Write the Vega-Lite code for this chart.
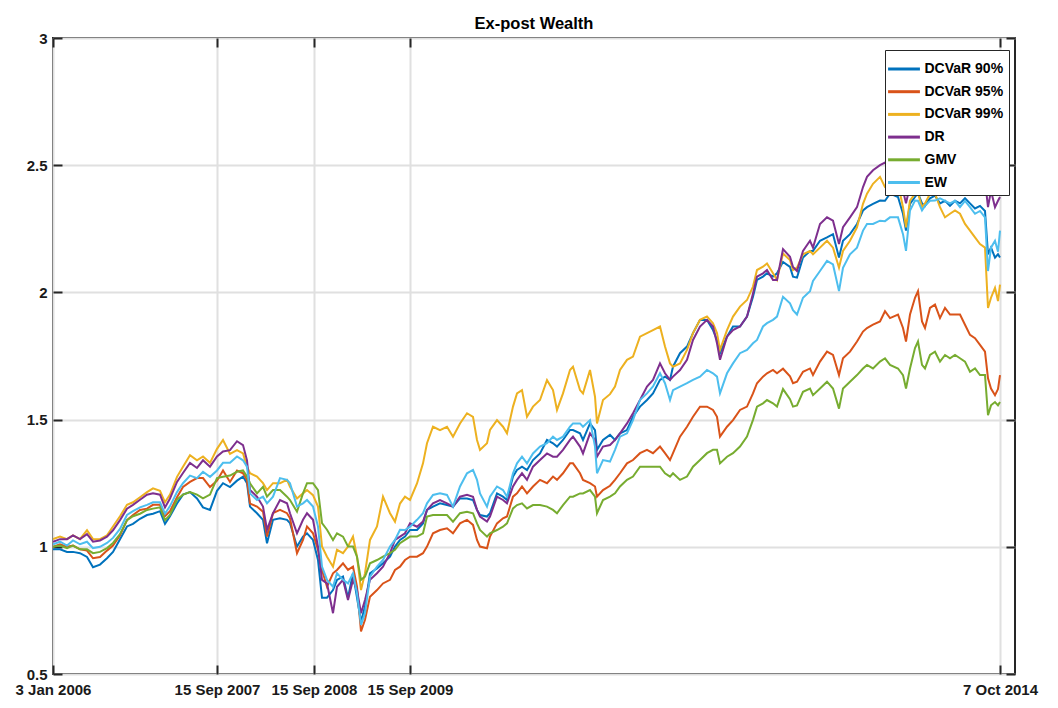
{
"$schema": "https://vega.github.io/schema/vega-lite/v6.json",
"width": 962, "height": 636,
"autosize": {"type": "none"},
"padding": {"left": 53, "top": 38, "right": 43, "bottom": 34},
"background": "white",
"title": {"text": "Ex-post Wealth", "font": "Liberation Sans", "fontSize": 16.5, "fontWeight": "bold", "color": "#000000", "offset": -1, "anchor": "middle"},
"config": {
  "view": {"stroke": "#262626", "strokeWidth": 2},
  "axis": {"domain": false, "gridColor": "#e0e0e0", "gridWidth": 2, "tickColor": "#262626", "tickWidth": 2, "tickSize": -9, "labelFont": "Liberation Sans", "labelFontWeight": "bold", "labelFontSize": 15, "labelColor": "#1a1a1a", "title": null}
},
"data": {"values": [
{"t":0,"B":0.99,"O":1.0,"Y":1.03,"P":1.02,"G":1.0,"L":1.01},
{"t":7,"B":0.99,"O":1.01,"Y":1.04,"P":1.03,"G":1.005,"L":1.02},
{"t":14,"B":0.98,"O":1.0,"Y":1.03,"P":1.03,"G":0.995,"L":1.005},
{"t":20,"B":0.98,"O":1.005,"Y":1.045,"P":1.045,"G":1.005,"L":1.025},
{"t":27,"B":0.975,"O":0.99,"Y":1.03,"P":1.03,"G":0.99,"L":1.01},
{"t":34,"B":0.96,"O":0.985,"Y":1.065,"P":1.05,"G":0.99,"L":1.02},
{"t":40,"B":0.92,"O":0.955,"Y":1.03,"P":1.02,"G":0.975,"L":0.995},
{"t":47,"B":0.93,"O":0.96,"Y":1.03,"P":1.025,"G":0.98,"L":1.0},
{"t":54,"B":0.955,"O":0.985,"Y":1.045,"P":1.04,"G":0.995,"L":1.015},
{"t":60,"B":0.98,"O":1.005,"Y":1.08,"P":1.065,"G":1.015,"L":1.035},
{"t":67,"B":1.03,"O":1.045,"Y":1.12,"P":1.105,"G":1.05,"L":1.07},
{"t":74,"B":1.08,"O":1.105,"Y":1.165,"P":1.15,"G":1.105,"L":1.125},
{"t":80,"B":1.09,"O":1.125,"Y":1.175,"P":1.165,"G":1.12,"L":1.14},
{"t":87,"B":1.11,"O":1.145,"Y":1.195,"P":1.185,"G":1.13,"L":1.155},
{"t":94,"B":1.125,"O":1.15,"Y":1.215,"P":1.205,"G":1.145,"L":1.165},
{"t":100,"B":1.13,"O":1.165,"Y":1.23,"P":1.21,"G":1.15,"L":1.175},
{"t":107,"B":1.14,"O":1.165,"Y":1.22,"P":1.205,"G":1.155,"L":1.175},
{"t":112,"B":1.09,"O":1.12,"Y":1.175,"P":1.155,"G":1.105,"L":1.13},
{"t":117,"B":1.12,"O":1.14,"Y":1.205,"P":1.19,"G":1.125,"L":1.16},
{"t":124,"B":1.17,"O":1.195,"Y":1.275,"P":1.255,"G":1.185,"L":1.215},
{"t":130,"B":1.205,"O":1.235,"Y":1.315,"P":1.29,"G":1.205,"L":1.25},
{"t":137,"B":1.215,"O":1.255,"Y":1.36,"P":1.33,"G":1.215,"L":1.28},
{"t":144,"B":1.19,"O":1.27,"Y":1.34,"P":1.31,"G":1.205,"L":1.27},
{"t":150,"B":1.155,"O":1.27,"Y":1.355,"P":1.34,"G":1.19,"L":1.295},
{"t":157,"B":1.145,"O":1.235,"Y":1.33,"P":1.315,"G":1.205,"L":1.275},
{"t":164,"B":1.22,"O":1.26,"Y":1.385,"P":1.355,"G":1.27,"L":1.3},
{"t":170,"B":1.25,"O":1.3,"Y":1.42,"P":1.375,"G":1.275,"L":1.33},
{"t":177,"B":1.235,"O":1.255,"Y":1.365,"P":1.38,"G":1.28,"L":1.33},
{"t":184,"B":1.26,"O":1.3,"Y":1.38,"P":1.415,"G":1.295,"L":1.355},
{"t":190,"B":1.276,"O":1.289,"Y":1.367,"P":1.4,"G":1.3,"L":1.34},
{"t":194,"B":1.25,"O":1.263,"Y":1.315,"P":1.34,"G":1.276,"L":1.315},
{"t":197,"B":1.158,"O":1.17,"Y":1.289,"P":1.223,"G":1.25,"L":1.21},
{"t":204,"B":1.132,"O":1.158,"Y":1.276,"P":1.197,"G":1.21,"L":1.184},
{"t":210,"B":1.106,"O":1.138,"Y":1.25,"P":1.158,"G":1.236,"L":1.197},
{"t":214,"B":1.014,"O":1.04,"Y":1.223,"P":1.067,"G":1.197,"L":1.171},
{"t":220,"B":1.106,"O":1.132,"Y":1.25,"P":1.132,"G":1.223,"L":1.197},
{"t":227,"B":1.112,"O":1.145,"Y":1.25,"P":1.184,"G":1.223,"L":1.27},
{"t":234,"B":1.106,"O":1.132,"Y":1.263,"P":1.171,"G":1.197,"L":1.263},
{"t":237,"B":1.093,"O":1.112,"Y":1.236,"P":1.132,"G":1.184,"L":1.25},
{"t":244,"B":1.001,"O":0.975,"Y":1.19,"P":1.053,"G":1.138,"L":1.158},
{"t":250,"B":1.04,"O":1.027,"Y":1.21,"P":1.106,"G":1.21,"L":1.171},
{"t":254,"B":1.053,"O":1.08,"Y":1.223,"P":1.132,"G":1.25,"L":1.184},
{"t":260,"B":1.027,"O":1.053,"Y":1.203,"P":1.106,"G":1.25,"L":1.158},
{"t":265,"B":0.948,"O":0.988,"Y":1.158,"P":1.001,"G":1.223,"L":1.08},
{"t":269,"B":0.8,"O":0.909,"Y":1.001,"P":0.87,"G":1.093,"L":0.922},
{"t":274,"B":0.8,"O":0.843,"Y":0.961,"P":0.856,"G":1.067,"L":0.87},
{"t":280,"B":0.83,"O":0.896,"Y":0.922,"P":0.739,"G":1.027,"L":0.843},
{"t":284,"B":0.87,"O":0.909,"Y":0.988,"P":0.843,"G":1.053,"L":0.896},
{"t":290,"B":0.883,"O":0.935,"Y":0.975,"P":0.87,"G":1.04,"L":0.87},
{"t":295,"B":0.8,"O":0.909,"Y":1.001,"P":0.791,"G":1.001,"L":0.856},
{"t":300,"B":0.896,"O":0.922,"Y":1.04,"P":0.87,"G":1.001,"L":0.896},
{"t":304,"B":0.8,"O":0.843,"Y":0.961,"P":0.83,"G":0.961,"L":0.817},
{"t":308,"B":0.706,"O":0.667,"Y":0.83,"P":0.739,"G":0.87,"L":0.693},
{"t":312,"B":0.765,"O":0.713,"Y":0.896,"P":0.791,"G":0.883,"L":0.739},
{"t":317,"B":0.896,"O":0.804,"Y":1.027,"P":0.87,"G":0.935,"L":0.883},
{"t":324,"B":0.915,"O":0.83,"Y":1.08,"P":0.896,"G":0.948,"L":0.922},
{"t":330,"B":0.935,"O":0.856,"Y":1.197,"P":0.922,"G":0.961,"L":0.948},
{"t":337,"B":0.961,"O":0.87,"Y":1.132,"P":0.975,"G":0.975,"L":1.001},
{"t":342,"B":1.001,"O":0.909,"Y":1.099,"P":1.027,"G":0.988,"L":1.027},
{"t":347,"B":1.027,"O":0.922,"Y":1.17,"P":1.04,"G":1.014,"L":1.067},
{"t":352,"B":1.04,"O":0.948,"Y":1.197,"P":1.053,"G":1.027,"L":1.066},
{"t":357,"B":1.066,"O":0.961,"Y":1.184,"P":1.092,"G":1.04,"L":1.079},
{"t":364,"B":1.066,"O":0.961,"Y":1.249,"P":1.079,"G":1.04,"L":1.106},
{"t":370,"B":1.092,"O":0.975,"Y":1.328,"P":1.099,"G":1.053,"L":1.132},
{"t":374,"B":1.145,"O":1.001,"Y":1.407,"P":1.145,"G":1.119,"L":1.171},
{"t":380,"B":1.158,"O":1.053,"Y":1.472,"P":1.171,"G":1.125,"L":1.204},
{"t":387,"B":1.171,"O":1.066,"Y":1.459,"P":1.184,"G":1.125,"L":1.21},
{"t":394,"B":1.164,"O":1.073,"Y":1.472,"P":1.171,"G":1.125,"L":1.204},
{"t":400,"B":1.158,"O":1.053,"Y":1.433,"P":1.158,"G":1.099,"L":1.158},
{"t":407,"B":1.19,"O":1.092,"Y":1.485,"P":1.197,"G":1.132,"L":1.237},
{"t":414,"B":1.19,"O":1.106,"Y":1.525,"P":1.204,"G":1.138,"L":1.289},
{"t":420,"B":1.184,"O":1.086,"Y":1.511,"P":1.197,"G":1.132,"L":1.302},
{"t":424,"B":1.145,"O":1.027,"Y":1.42,"P":1.145,"G":1.092,"L":1.263},
{"t":427,"B":1.125,"O":1.001,"Y":1.381,"P":1.119,"G":1.066,"L":1.21},
{"t":434,"B":1.119,"O":0.994,"Y":1.407,"P":1.099,"G":1.04,"L":1.158},
{"t":437,"B":1.132,"O":1.04,"Y":1.459,"P":1.119,"G":1.053,"L":1.197},
{"t":444,"B":1.21,"O":1.092,"Y":1.498,"P":1.197,"G":1.066,"L":1.237},
{"t":450,"B":1.197,"O":1.112,"Y":1.472,"P":1.184,"G":1.079,"L":1.223},
{"t":454,"B":1.184,"O":1.119,"Y":1.446,"P":1.171,"G":1.092,"L":1.197},
{"t":460,"B":1.276,"O":1.197,"Y":1.551,"P":1.237,"G":1.151,"L":1.289},
{"t":464,"B":1.302,"O":1.21,"Y":1.603,"P":1.263,"G":1.164,"L":1.328},
{"t":469,"B":1.315,"O":1.237,"Y":1.616,"P":1.289,"G":1.171,"L":1.354},
{"t":474,"B":1.302,"O":1.21,"Y":1.511,"P":1.263,"G":1.151,"L":1.328},
{"t":480,"B":1.341,"O":1.237,"Y":1.551,"P":1.315,"G":1.164,"L":1.367},
{"t":487,"B":1.367,"O":1.263,"Y":1.577,"P":1.341,"G":1.164,"L":1.394},
{"t":494,"B":1.42,"O":1.25,"Y":1.655,"P":1.367,"G":1.158,"L":1.407},
{"t":500,"B":1.407,"O":1.276,"Y":1.616,"P":1.354,"G":1.145,"L":1.433},
{"t":504,"B":1.394,"O":1.263,"Y":1.538,"P":1.354,"G":1.132,"L":1.42},
{"t":510,"B":1.42,"O":1.289,"Y":1.603,"P":1.381,"G":1.164,"L":1.433},
{"t":517,"B":1.459,"O":1.328,"Y":1.695,"P":1.42,"G":1.197,"L":1.472},
{"t":520,"B":1.459,"O":1.328,"Y":1.708,"P":1.433,"G":1.197,"L":1.485},
{"t":527,"B":1.446,"O":1.289,"Y":1.616,"P":1.394,"G":1.21,"L":1.485},
{"t":530,"B":1.42,"O":1.263,"Y":1.603,"P":1.367,"G":1.21,"L":1.472},
{"t":537,"B":1.485,"O":1.25,"Y":1.695,"P":1.446,"G":1.223,"L":1.498},
{"t":542,"B":1.459,"O":1.237,"Y":1.59,"P":1.42,"G":1.197,"L":1.394},
{"t":544,"B":1.381,"O":1.197,"Y":1.485,"P":1.354,"G":1.132,"L":1.289},
{"t":550,"B":1.42,"O":1.223,"Y":1.577,"P":1.394,"G":1.184,"L":1.341},
{"t":557,"B":1.44,"O":1.24,"Y":1.6,"P":1.4,"G":1.197,"L":1.335},
{"t":562,"B":1.42,"O":1.263,"Y":1.63,"P":1.42,"G":1.21,"L":1.381},
{"t":567,"B":1.446,"O":1.289,"Y":1.695,"P":1.446,"G":1.237,"L":1.433},
{"t":574,"B":1.459,"O":1.328,"Y":1.735,"P":1.485,"G":1.263,"L":1.446},
{"t":580,"B":1.511,"O":1.341,"Y":1.748,"P":1.525,"G":1.276,"L":1.498},
{"t":587,"B":1.551,"O":1.368,"Y":1.826,"P":1.577,"G":1.315,"L":1.577},
{"t":594,"B":1.577,"O":1.381,"Y":1.84,"P":1.63,"G":1.315,"L":1.603},
{"t":600,"B":1.603,"O":1.368,"Y":1.852,"P":1.656,"G":1.315,"L":1.63},
{"t":607,"B":1.656,"O":1.394,"Y":1.866,"P":1.721,"G":1.315,"L":1.682},
{"t":612,"B":1.669,"O":1.368,"Y":1.787,"P":1.682,"G":1.289,"L":1.643},
{"t":617,"B":1.656,"O":1.341,"Y":1.721,"P":1.656,"G":1.276,"L":1.577},
{"t":620,"B":1.708,"O":1.368,"Y":1.708,"P":1.669,"G":1.289,"L":1.616},
{"t":627,"B":1.761,"O":1.433,"Y":1.721,"P":1.695,"G":1.263,"L":1.63},
{"t":634,"B":1.787,"O":1.472,"Y":1.774,"P":1.735,"G":1.276,"L":1.643},
{"t":640,"B":1.84,"O":1.511,"Y":1.84,"P":1.813,"G":1.315,"L":1.656},
{"t":647,"B":1.892,"O":1.551,"Y":1.892,"P":1.866,"G":1.341,"L":1.669},
{"t":654,"B":1.892,"O":1.551,"Y":1.905,"P":1.892,"G":1.368,"L":1.695},
{"t":660,"B":1.852,"O":1.538,"Y":1.879,"P":1.866,"G":1.381,"L":1.682},
{"t":664,"B":1.813,"O":1.511,"Y":1.84,"P":1.8,"G":1.381,"L":1.669},
{"t":667,"B":1.761,"O":1.433,"Y":1.774,"P":1.735,"G":1.328,"L":1.603},
{"t":674,"B":1.826,"O":1.472,"Y":1.852,"P":1.826,"G":1.354,"L":1.682},
{"t":680,"B":1.866,"O":1.498,"Y":1.905,"P":1.852,"G":1.368,"L":1.721},
{"t":687,"B":1.866,"O":1.538,"Y":1.944,"P":1.866,"G":1.394,"L":1.761},
{"t":694,"B":1.905,"O":1.551,"Y":1.97,"P":1.905,"G":1.433,"L":1.774},
{"t":700,"B":1.983,"O":1.603,"Y":2.023,"P":1.996,"G":1.499,"L":1.8},
{"t":704,"B":2.049,"O":1.643,"Y":2.088,"P":2.062,"G":1.551,"L":1.813},
{"t":710,"B":2.062,"O":1.669,"Y":2.101,"P":2.075,"G":1.564,"L":1.866},
{"t":714,"B":2.075,"O":1.682,"Y":2.114,"P":2.088,"G":1.577,"L":1.879},
{"t":720,"B":2.062,"O":1.695,"Y":2.075,"P":2.049,"G":1.564,"L":1.892},
{"t":724,"B":2.075,"O":1.682,"Y":2.049,"P":2.049,"G":1.551,"L":1.905},
{"t":730,"B":2.12,"O":1.7,"Y":2.153,"P":2.17,"G":1.62,"L":1.983},
{"t":737,"B":2.1,"O":1.67,"Y":2.127,"P":2.14,"G":1.58,"L":1.957},
{"t":740,"B":2.062,"O":1.643,"Y":2.088,"P":2.1,"G":1.551,"L":1.93},
{"t":744,"B":2.058,"O":1.649,"Y":2.097,"P":2.084,"G":1.556,"L":1.913},
{"t":750,"B":2.137,"O":1.688,"Y":2.15,"P":2.163,"G":1.609,"L":1.979},
{"t":757,"B":2.163,"O":1.701,"Y":2.163,"P":2.203,"G":1.622,"L":2.005},
{"t":760,"B":2.163,"O":1.675,"Y":2.15,"P":2.176,"G":1.596,"L":2.045},
{"t":767,"B":2.203,"O":1.728,"Y":2.176,"P":2.269,"G":1.622,"L":2.084},
{"t":774,"B":2.216,"O":1.767,"Y":2.203,"P":2.295,"G":1.649,"L":2.124},
{"t":780,"B":2.229,"O":1.754,"Y":2.176,"P":2.282,"G":1.622,"L":2.11},
{"t":786,"B":2.137,"O":1.675,"Y":2.097,"P":2.19,"G":1.543,"L":2.005},
{"t":790,"B":2.203,"O":1.741,"Y":2.163,"P":2.256,"G":1.622,"L":2.097},
{"t":797,"B":2.229,"O":1.767,"Y":2.203,"P":2.295,"G":1.649,"L":2.15},
{"t":804,"B":2.269,"O":1.807,"Y":2.256,"P":2.335,"G":1.675,"L":2.176},
{"t":810,"B":2.322,"O":1.846,"Y":2.348,"P":2.414,"G":1.701,"L":2.243},
{"t":814,"B":2.335,"O":1.86,"Y":2.388,"P":2.454,"G":1.715,"L":2.269},
{"t":820,"B":2.348,"O":1.873,"Y":2.427,"P":2.48,"G":1.701,"L":2.269},
{"t":827,"B":2.361,"O":1.886,"Y":2.454,"P":2.5,"G":1.728,"L":2.282},
{"t":832,"B":2.36,"O":1.926,"Y":2.414,"P":2.51,"G":1.741,"L":2.28},
{"t":837,"B":2.388,"O":1.899,"Y":2.401,"P":2.48,"G":1.715,"L":2.295},
{"t":845,"B":2.375,"O":1.913,"Y":2.427,"P":2.45,"G":1.701,"L":2.295},
{"t":850,"B":2.309,"O":1.86,"Y":2.335,"P":2.4,"G":1.675,"L":2.229},
{"t":853,"B":2.243,"O":1.807,"Y":2.256,"P":2.35,"G":1.622,"L":2.163},
{"t":857,"B":2.348,"O":1.913,"Y":2.361,"P":2.42,"G":1.701,"L":2.322},
{"t":862,"B":2.375,"O":1.979,"Y":2.388,"P":2.48,"G":1.781,"L":2.361},
{"t":865,"B":2.39,"O":2.005,"Y":2.39,"P":2.5,"G":1.807,"L":2.36},
{"t":869,"B":2.35,"O":1.886,"Y":2.335,"P":2.47,"G":1.715,"L":2.322},
{"t":872,"B":2.34,"O":1.86,"Y":2.35,"P":2.46,"G":1.701,"L":2.34},
{"t":877,"B":2.37,"O":1.939,"Y":2.388,"P":2.49,"G":1.754,"L":2.36},
{"t":882,"B":2.38,"O":1.952,"Y":2.388,"P":2.5,"G":1.767,"L":2.361},
{"t":887,"B":2.35,"O":1.899,"Y":2.335,"P":2.47,"G":1.728,"L":2.37},
{"t":892,"B":2.36,"O":1.939,"Y":2.295,"P":2.49,"G":1.754,"L":2.36},
{"t":897,"B":2.34,"O":1.913,"Y":2.309,"P":2.48,"G":1.741,"L":2.35},
{"t":902,"B":2.36,"O":1.913,"Y":2.322,"P":2.5,"G":1.754,"L":2.36},
{"t":907,"B":2.35,"O":1.913,"Y":2.309,"P":2.49,"G":1.741,"L":2.335},
{"t":912,"B":2.37,"O":1.873,"Y":2.269,"P":2.5,"G":1.728,"L":2.36},
{"t":917,"B":2.35,"O":1.833,"Y":2.243,"P":2.48,"G":1.688,"L":2.335},
{"t":922,"B":2.33,"O":1.82,"Y":2.216,"P":2.47,"G":1.701,"L":2.309},
{"t":927,"B":2.34,"O":1.794,"Y":2.19,"P":2.46,"G":1.675,"L":2.32},
{"t":932,"B":2.32,"O":1.767,"Y":2.176,"P":2.44,"G":1.675,"L":2.295},
{"t":935,"B":2.15,"O":1.662,"Y":1.939,"P":2.335,"G":1.517,"L":2.084},
{"t":938,"B":2.176,"O":1.622,"Y":1.979,"P":2.4,"G":1.556,"L":2.176},
{"t":942,"B":2.137,"O":1.596,"Y":2.018,"P":2.335,"G":1.569,"L":2.203},
{"t":945,"B":2.15,"O":1.62,"Y":1.966,"P":2.36,"G":1.556,"L":2.16},
{"t":947,"B":2.137,"O":1.675,"Y":2.031,"P":2.375,"G":1.569,"L":2.243}
]},
"transform": [{"fold": ["B", "O", "Y", "P", "G", "L"], "as": ["series", "v"]}],
"resolve": {"axis": {"x": "independent", "y": "independent"}},
"layer": [
  {
    "mark": {"type": "line", "strokeWidth": 2, "clip": true},
    "encoding": {
      "x": {"field": "t", "type": "quantitative", "scale": {"domain": [0, 962], "nice": false, "zero": false},
        "axis": {"values": [0, 164, 261, 357, 947], "grid": true, "labelPadding": 17, "labelOverlap": false, "labelBound": false, "labelFlush": false,
          "labelExpr": "datum.value == 0 ? '3 Jan 2006' : datum.value == 164 ? '15 Sep 2007' : datum.value == 261 ? '15 Sep 2008' : datum.value == 357 ? '15 Sep 2009' : '7 Oct 2014'"}},
      "y": {"field": "v", "type": "quantitative", "scale": {"domain": [0.5, 3], "nice": false, "zero": false},
        "axis": {"values": [0.5, 1, 1.5, 2, 2.5, 3], "grid": true, "format": "~g", "labelPadding": 15, "labelOverlap": false, "labelBound": false, "labelFlush": false}},
      "color": {"field": "series", "type": "nominal",
        "scale": {"domain": ["B", "O", "Y", "P", "G", "L"], "range": ["#0072BD", "#D95319", "#EDB120", "#7E2F8E", "#77AC30", "#4DBEEE"]},
        "legend": {"orient": "none", "legendX": 832, "legendY": 12, "title": null, "symbolType": "M-1.3,0H1.3", "symbolSize": 600, "symbolStrokeWidth": 3,
          "strokeColor": "#262626", "fillColor": "white", "padding": 5, "rowPadding": 1.7, "labelFont": "Liberation Sans", "labelFontWeight": "bold", "labelFontSize": 14, "labelColor": "#000000", "labelOffset": 6.5, "offset": 0,
          "labelExpr": "datum.label == 'B' ? 'DCVaR 90%' : datum.label == 'O' ? 'DCVaR 95%' : datum.label == 'Y' ? 'DCVaR 99%' : datum.label == 'P' ? 'DR' : datum.label == 'G' ? 'GMV' : 'EW'"}}
    }
  },
  {
    "mark": {"type": "line", "opacity": 0},
    "encoding": {
      "x": {"field": "t", "type": "quantitative", "scale": {"domain": [0, 962], "nice": false, "zero": false},
        "axis": {"orient": "top", "values": [0, 164, 261, 357, 947], "labels": false, "grid": false}},
      "y": {"field": "v", "type": "quantitative", "scale": {"domain": [0.5, 3], "nice": false, "zero": false},
        "axis": {"orient": "right", "values": [0.5, 1, 1.5, 2, 2.5, 3], "labels": false, "grid": false}},
      "detail": {"field": "series"}
    }
  }
]
}
